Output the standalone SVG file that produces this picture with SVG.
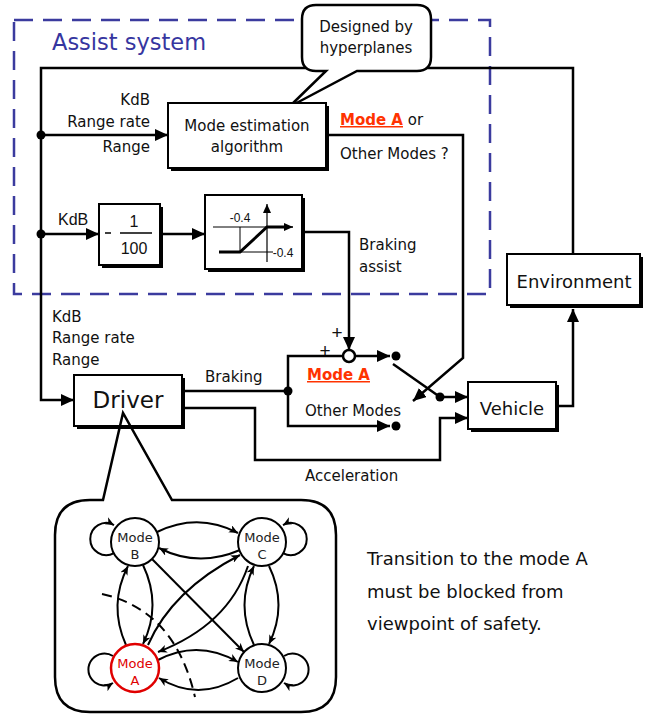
<svg xmlns="http://www.w3.org/2000/svg" width="650" height="716" viewBox="0 0 650 716">
<style>
.t{font-family:"DejaVu Sans",Verdana,sans-serif;font-size:15px;fill:#111}
.a{font-family:"Liberation Sans",Arial,sans-serif;fill:#111}
.red{font-family:"DejaVu Sans",Verdana,sans-serif;font-size:15px;font-weight:bold;fill:#ff3300;text-decoration:underline}
.ln{fill:none;stroke:#000;stroke-width:2.5}
.thin{fill:none;stroke:#000;stroke-width:1}
.box{fill:#fff;stroke:#000;stroke-width:2}
.sh{fill:#000}
.g{fill:none;stroke:#000;stroke-width:2}
.st{fill:#fff;stroke:#000;stroke-width:2}
.mt{font-family:"DejaVu Sans",Verdana,sans-serif;font-size:13px;fill:#222;text-anchor:middle}
.big{font-size:18px}
.pl{font-size:19px}
</style>
<defs>
<marker id="ah" markerUnits="userSpaceOnUse" markerWidth="13" markerHeight="12" viewBox="0 0 13 12" refX="13" refY="6" orient="auto"><path d="M0,0 L13,6 L0,12 Z" fill="#000"/></marker>
<marker id="sm" markerUnits="userSpaceOnUse" markerWidth="9" markerHeight="8" viewBox="0 0 9 8" refX="9" refY="4" orient="auto"><path d="M0,0 L9,4 L0,8 Z" fill="#000"/></marker>
<marker id="sa" markerUnits="userSpaceOnUse" markerWidth="9" markerHeight="8" viewBox="0 0 9 8" refX="9" refY="4" orient="auto"><path d="M0,0 L9,4 L0,8 L2.5,4 Z" fill="#000"/></marker>
</defs>
<rect width="650" height="716" fill="#fff"/>

<g id="assist-system">
<rect x="14" y="20" width="476" height="274" fill="none" stroke="#3b3b9e" stroke-width="2.5" stroke-dasharray="19,10"/>
<text x="52" y="50" style="font-family:'DejaVu Sans',Verdana,sans-serif;font-size:22.5px;fill:#3636a0">Assist system</text>
</g>

<g id="connectors">
<polyline class="ln" points="573,254 573,68 41,68 41,400 74,400" marker-end="url(#ah)"/>
<line class="ln" x1="41" y1="135" x2="168" y2="135" marker-end="url(#ah)"/>
<line class="ln" x1="41" y1="234" x2="99" y2="234" marker-end="url(#ah)"/>
<line class="ln" x1="160" y1="234" x2="205" y2="234" marker-end="url(#ah)"/>
<polyline class="ln" points="302,232 349,232 349,350" marker-end="url(#ah)"/>
<polyline class="ln" points="326,135 463,135 463,358 413,401" marker-end="url(#ah)"/>
<line class="ln" x1="182" y1="391" x2="288" y2="391"/>
<polyline class="ln" points="343,356 288,356 288,426 390,426" marker-end="url(#ah)"/>
<line class="ln" x1="355" y1="356" x2="390" y2="356" marker-end="url(#ah)"/>
<line class="ln" x1="393" y1="364" x2="440" y2="397"/>
<line class="ln" x1="440" y1="397" x2="468" y2="397" marker-end="url(#ah)"/>
<polyline class="ln" points="182,408 255,408 255,460 440,460 440,418 468,418" marker-end="url(#ah)"/>
<polyline class="ln" points="556,406 573,406 573,309" marker-end="url(#ah)"/>
<circle cx="41" cy="135" r="4.5"/>
<circle cx="41" cy="234" r="4.5"/>
<circle cx="288" cy="391" r="4.5"/>
<circle cx="396" cy="356" r="4.5"/>
<circle cx="396" cy="426" r="4.5"/>
<circle cx="440" cy="397" r="4.5"/>
</g>

<g id="callout">
<path d="M316,5 H417 Q431,5 431,19 V57 Q431,71 417,71 H357 L289,107 L326,71 H316 Q302,71 302,57 V19 Q302,5 316,5 Z" fill="#fff" stroke="#000" stroke-width="2.5"/>
<text class="t" x="366" y="32" text-anchor="middle">Designed by</text>
<text class="t" x="366" y="53" text-anchor="middle">hyperplanes</text>
</g>

<g id="mode-estimation">
<rect class="sh" x="171" y="106" width="158" height="65"/>
<rect class="box" x="168" y="103" width="158" height="65"/>
<text class="t" x="247" y="131" text-anchor="middle">Mode estimation</text>
<text class="t" x="247" y="152" text-anchor="middle">algorithm</text>
<text class="t" x="150" y="105" text-anchor="end">KdB</text>
<text class="t" x="150" y="127" text-anchor="end">Range rate</text>
<text class="t" x="150" y="152" text-anchor="end">Range</text>
<text x="340" y="125"><tspan class="red">Mode A</tspan><tspan class="t"> or</tspan></text>
<text class="t" x="340" y="159">Other Modes ?</text>
</g>

<g id="gain">
<rect class="sh" x="102" y="207" width="61" height="61"/>
<rect class="box" x="99" y="204" width="61" height="61"/>
<line x1="105" y1="233" x2="111" y2="233" stroke="#000" stroke-width="1.5"/>
<line x1="120" y1="233" x2="152" y2="233" stroke="#000" stroke-width="1.5"/>
<text class="a" x="134" y="227" font-size="16" text-anchor="middle">1</text>
<text class="a" x="134" y="254" font-size="16" text-anchor="middle">100</text>
<text class="a" x="58" y="225" font-size="16">KdB</text>
</g>

<g id="saturation">
<rect class="sh" x="208" y="198" width="97" height="74"/>
<rect class="box" x="205" y="195" width="97" height="74"/>
<line class="thin" x1="213" y1="227" x2="267" y2="227"/>
<line class="thin" x1="240" y1="227" x2="240" y2="252"/>
<line class="thin" x1="240" y1="252" x2="273" y2="252"/>
<line x1="267" y1="262" x2="267" y2="204" stroke="#000" stroke-width="1.2" marker-end="url(#sm)"/>
<polyline points="219,252 240,252 267,227 284,227" fill="none" stroke="#000" stroke-width="3"/>
<line x1="282" y1="227" x2="293" y2="227" stroke="#000" stroke-width="1.5" marker-end="url(#sm)"/>
<text class="a" x="240" y="222" font-size="12" text-anchor="middle">-0.4</text>
<text class="a" x="283" y="257" font-size="12" text-anchor="middle">-0.4</text>
<text class="t" x="359" y="250">Braking</text>
<text class="t" x="359" y="272">assist</text>
</g>

<g id="environment">
<rect class="sh" x="510" y="257" width="133" height="51"/>
<rect class="box" x="507" y="254" width="133" height="51"/>
<text class="t big" x="574" y="288" text-anchor="middle">Environment</text>
</g>

<g id="switch">
<circle cx="349" cy="356" r="6" fill="#fff" stroke="#000" stroke-width="2.5"/>
<text class="a pl" x="337" y="339" text-anchor="middle">+</text>
<text class="a pl" x="325" y="357" text-anchor="middle">+</text>
<text class="red" x="307" y="380">Mode A</text>
<text class="t" x="305" y="416">Other Modes</text>
<text class="t" x="205" y="382">Braking</text>
<text class="t" x="305" y="481">Acceleration</text>
</g>

<g id="vehicle">
<rect class="sh" x="471" y="385" width="88" height="47"/>
<rect class="box" x="468" y="382" width="88" height="47"/>
<text class="t big" x="512" y="415" text-anchor="middle">Vehicle</text>
</g>

<g id="driver">
<rect class="sh" x="77" y="378" width="108" height="51"/>
<rect class="box" x="74" y="375" width="108" height="51"/>
<text class="t" x="128" y="408" text-anchor="middle" style="font-size:23px">Driver</text>
<text class="t" x="52" y="322">KdB</text>
<text class="t" x="52" y="343">Range rate</text>
<text class="t" x="52" y="365">Range</text>
</g>

<g id="driver-modes">
<path d="M103,500 L123,413 L172,500 H301 Q336,500 336,535 V677 Q336,712 301,712 H90 Q55,712 55,677 V535 Q55,500 90,500 Z" fill="none" stroke="#000" stroke-width="2.5"/>
<g id="mode-transitions">
<path class="g" d="M157,532 Q198,512 238,533" marker-end="url(#sa)"/>
<path class="g" d="M240,550 Q198,568 159,548" marker-end="url(#sa)"/>
<path class="g" d="M126,645 Q108,605 128,566" marker-end="url(#sa)"/>
<path class="g" d="M143,565 Q162,605 143,644" marker-end="url(#sa)"/>
<path class="g" d="M254,645 Q235,605 254,566" marker-end="url(#sa)"/>
<path class="g" d="M269,566 Q288,605 269,644" marker-end="url(#sa)"/>
<path class="g" d="M158,660 Q198,639 238,662" marker-end="url(#sa)"/>
<path class="g" d="M238,678 Q198,702 159,678" marker-end="url(#sa)"/>
<path class="g" d="M152,559 L244,652" marker-end="url(#sa)"/>
<path class="g" d="M148,645 Q172,590 240,555" marker-end="url(#sa)"/>
<path class="g" d="M248,566 Q228,625 158,652" marker-end="url(#sa)"/>
<path class="g" d="M114,553 A16,16 0 1,1 114,525" marker-end="url(#sa)"/>
<path class="g" d="M283,553 A16,16 0 1,0 283,525" marker-end="url(#sa)"/>
<path class="g" d="M113,656 A16,16 0 1,0 113,683" marker-end="url(#sa)"/>
<path class="g" d="M284,656 A16,16 0 1,1 284,683" marker-end="url(#sa)"/>
<path d="M102,594 Q175,610 195,697" fill="none" stroke="#000" stroke-width="2" stroke-dasharray="10,6"/>
</g>
<g id="mode-b"><circle class="st" cx="135" cy="542" r="24"/><text class="mt" x="135" y="542">Mode</text><text class="mt" x="135" y="559">B</text></g>
<g id="mode-c"><circle class="st" cx="262" cy="542" r="24"/><text class="mt" x="262" y="542">Mode</text><text class="mt" x="262" y="559">C</text></g>
<g id="mode-a"><circle cx="135" cy="668" r="24" fill="#fff" stroke="#e00000" stroke-width="2.5"/><text class="mt" x="135" y="668" style="fill:#e00000">Mode</text><text class="mt" x="135" y="685" style="fill:#e00000">A</text></g>
<g id="mode-d"><circle class="st" cx="262" cy="668" r="24"/><text class="mt" x="262" y="668">Mode</text><text class="mt" x="262" y="685">D</text></g>
</g>

<g id="note">
<text class="t big" x="367" y="565">Transition to the mode A</text>
<text class="t big" x="367" y="598">must be blocked from</text>
<text class="t big" x="367" y="630">viewpoint of safety.</text>
</g>
</svg>
